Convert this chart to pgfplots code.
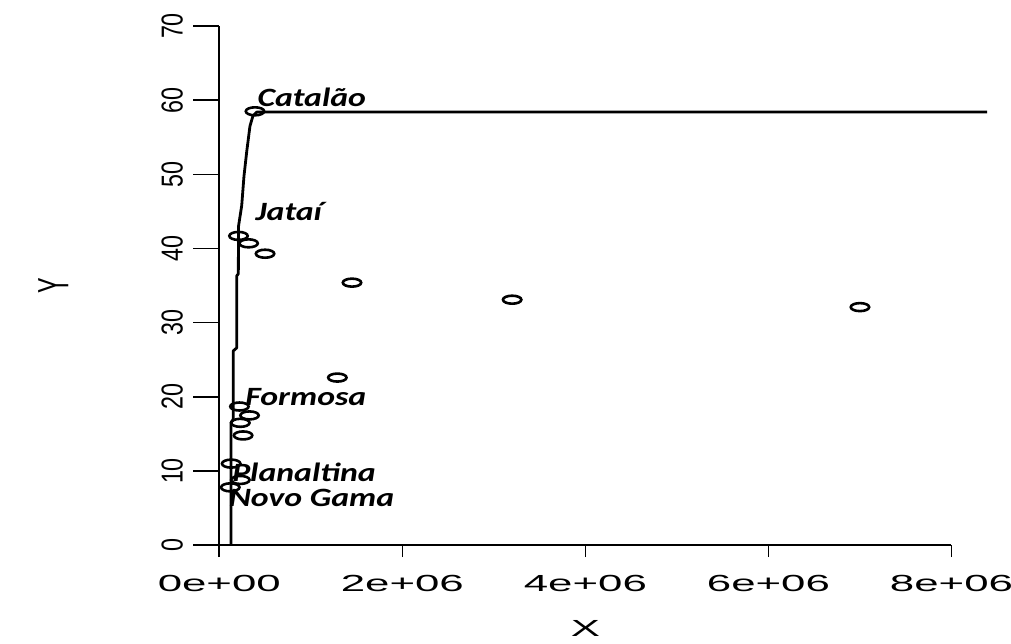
\documentclass[border=0pt]{standalone}
\usepackage{fontspec}
\usepackage{graphicx}
\usepackage{pgfplots}
\pgfplotsset{compat=1.18}
\newfontfamily\arial{Liberation Sans}
\newfontfamily\carlito{Carlito}
\def\tickfont{\fontsize{11.65pt}{12pt}\arial}
\def\annfont{\fontsize{13.2pt}{14pt}\carlito\bfseries\itshape}
\newcommand\ylab[1]{\scalebox{1}[1.3]{#1}}
\begin{document}
\begin{tikzpicture}
\path[use as bounding box] (-109.65pt,-48.9pt) rectangle (395.85pt,272.6pt);
\begin{axis}[
  at={(0,0)}, anchor=south west, scale only axis,
  width=366.1pt, height=259.6pt,
  xmin=0, xmax=8e6, ymin=0, ymax=70,
  axis lines=left, axis line style={-, line width=0.8pt},
  clip=false,
  xtick={0,2e6,4e6,6e6,8e6},
  xticklabels={0e+00,2e+06,4e+06,6e+06,8e+06},
  scaled x ticks=false, scaled y ticks=false,
  ytick={0,10,20,30,40,50,60,70},
  yticklabels={\ylab{0},\ylab{10},\ylab{20},\ylab{30},\ylab{40},\ylab{50},\ylab{60},\ylab{70}},
  tick align=outside, major tick length=6pt,
  xtick style={line width=0.8pt, black, /pgfplots/major tick length=6pt},
  ytick style={line width=0.8pt, black, /pgfplots/major tick length=13pt},
  xticklabel shift=9pt,
  yticklabel shift=12pt,
  xticklabel style={font=\tickfont, xscale=1.88, anchor=north, inner sep=0pt},
  yticklabel style={font=\tickfont, rotate=90, anchor=south, inner sep=0pt},
  every axis x label/.style={at={(axis cs:4e6,0)}, yshift=-41.5pt, anchor=center, xscale=1.88, font=\tickfont},
  every axis y label/.style={at={(axis cs:0,35)}, xshift=-83pt, anchor=center, xscale=1.88, rotate=90, font=\tickfont},
  xlabel={X}, ylabel={Y},
]
% fitted curve
\addplot[black, line width=1.4pt, line join=round] coordinates {
 (1.28e5,0) (1.28e5,16.5) (1.53e5,17) (1.53e5,26.2) (1.9e5,26.6) (1.9e5,36.3)
 (2.08e5,36.6) (2.1e5,43) (2.45e5,45.8) (2.7e5,49.8) (3.0e5,53.1) (3.35e5,56.5)
 (3.68e5,57.9) (4.1e5,58.4) (8.39e6,58.4)
};
% observations
\addplot[only marks, mark=o, mark size=2pt, mark options={xscale=2.3, line width=1.3pt, black}] coordinates {
 (0.39e6,58.5) (0.21e6,41.7) (0.32e6,40.7) (0.50e6,39.3) (1.45e6,35.4)
 (3.20e6,33.1) (7.00e6,32.1) (1.29e6,22.6) (0.22e6,18.7) (0.33e6,17.5)
 (0.23e6,16.5) (0.26e6,14.8) (0.13e6,11.0) (0.23e6,8.8) (0.12e6,7.8)
};
\node[anchor=base west, inner sep=0pt, font=\annfont, xscale=1.28] at (axis cs:0.412e6,59.1) {Catalão};
\node[anchor=base west, inner sep=0pt, font=\annfont, xscale=1.28] at (axis cs:0.39e6,43.8) {Jataí};
\node[anchor=base west, inner sep=0pt, font=\annfont, xscale=1.28] at (axis cs:0.28e6,18.9) {Formosa};
\node[anchor=base west, inner sep=0pt, font=\annfont, xscale=1.28] at (axis cs:0.136e6,8.56) {Planaltina};
\node[anchor=base west, inner sep=0pt, font=\annfont, xscale=1.28] at (axis cs:0.098e6,5.19) {Novo Gama};
\end{axis}
\end{tikzpicture}
\end{document}
